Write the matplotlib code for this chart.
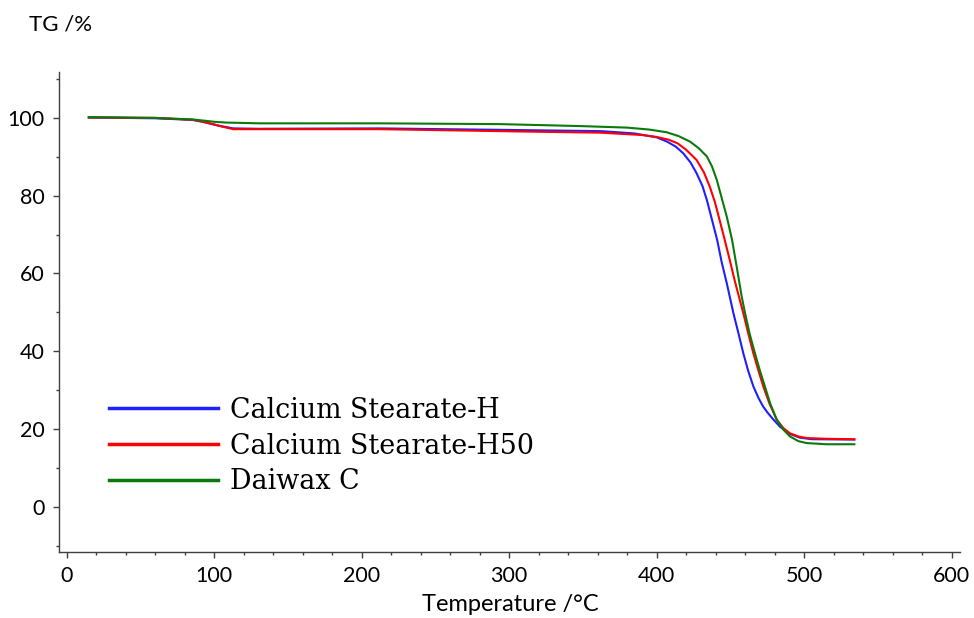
import matplotlib.pyplot as plt
from matplotlib.ticker import MultipleLocator

# Calcium Stearate-H
temp_h = [15, 60, 85, 92, 103, 113, 130, 212, 300, 362, 385, 400, 407, 413, 418, 423, 427, 431,
          434, 437, 441, 444, 447.5, 452, 455.5, 458.7, 462, 465.5, 469, 472, 475, 479, 483.6, 490,
          497, 505, 534]
tg_h = [100.1, 99.9, 99.5, 99.0, 98.0, 97.3, 97.2, 97.3, 96.9, 96.6, 96.0, 95.0, 93.9, 92.6, 90.9,
        88.5, 85.8, 82.5, 78.9, 74.5, 68.6, 63.0, 57.5, 49.8, 44.5, 39.5, 35.0, 31.0, 28.0, 25.9,
        24.3, 22.5, 20.6, 18.8, 17.8, 17.4, 17.3]

# Calcium Stearate-H50
temp_h50 = [15, 60, 86, 95, 105, 113, 130, 212, 309, 362, 390, 400, 408, 414, 420, 427, 432, 436,
            439.5, 442.6, 446, 449.5, 453, 458.7, 462, 465.5, 469, 472.3, 476.5, 481.4, 486, 490.4,
            496, 501.7, 515, 534]
tg_h50 = [100.1, 100.0, 99.5, 98.8, 97.8, 97.1, 97.1, 97.1, 96.5, 96.2, 95.6, 95.1, 94.4, 93.5,
          91.8, 89.2, 86.0, 82.3, 78.3, 73.8, 68.8, 63.5, 58.0, 49.8, 44.7, 39.5, 35.0, 30.9, 26.5,
          22.4, 20.2, 18.9, 18.1, 17.7, 17.5, 17.4]

# Daiwax C
temp_c = [15, 60, 85, 93, 100, 108, 131, 212, 294, 348, 380, 395, 406.8, 415, 422.6, 428.5, 434,
          437.5, 440.7, 444, 447.5, 451, 454.2, 457.6, 459.9, 463, 466.6, 470, 473.4, 477, 481.4,
          486, 490.4, 496, 501.7, 515, 534]
tg_c = [100.2, 100.0, 99.6, 99.3, 99.0, 98.8, 98.6, 98.6, 98.4, 97.9, 97.5, 97.0, 96.3, 95.3, 93.9,
        92.2, 90.1, 87.5, 84.1, 79.5, 74.6, 68.8, 61.8, 54.1, 49.8, 44.5, 39.5, 35.0, 30.9, 26.5,
        22.4, 19.8, 18.1, 16.9, 16.4, 16.1, 16.1]

fig = plt.figure(figsize=(9.74, 6.18), dpi=100)
ax = fig.add_axes([0.0603, 0.1068, 0.9253, 0.7767])

ax.plot(temp_h, tg_h, color="#1f1fff", linewidth=1.5, label="Calcium Stearate-H")
ax.plot(temp_h50, tg_h50, color="#ff0000", linewidth=1.5, label="Calcium Stearate-H50")
ax.plot(temp_c, tg_c, color="#0a7a0a", linewidth=1.5, label="Daiwax C")

ax.set_xlim(-5.4, 605.6)
ax.set_ylim(-11.6, 111.8)
ax.xaxis.set_major_locator(MultipleLocator(100))
ax.xaxis.set_minor_locator(MultipleLocator(20))
ax.yaxis.set_major_locator(MultipleLocator(20))
ax.yaxis.set_minor_locator(MultipleLocator(10))

for s in ["top", "right"]:
    ax.spines[s].set_visible(False)
for s in ["left", "bottom"]:
    ax.spines[s].set_color("#404040")
    ax.spines[s].set_linewidth(1.0)

ax.tick_params(which="major", length=4, width=1, color="#404040", labelsize=15.5, pad=6)
ax.tick_params(which="minor", length=2.5, width=1, color="#404040")
for lab in ax.get_xticklabels() + ax.get_yticklabels():
    lab.set_fontfamily("Lato")

fig.text(0.524, 0.005, "Temperature /°C", fontsize=17, family="Lato", ha="center", va="bottom")
fig.text(0.03, 0.96, "TG /%", fontsize=16, family="Lato", ha="left", va="center")

leg = ax.legend(loc="upper left", bbox_to_anchor=(0.044, 0.346), frameon=False,
                prop={"family": "DejaVu Serif", "size": 19.4},
                handlelength=4.04, handletextpad=0.44, labelspacing=0.33, borderaxespad=0)
for line in leg.get_lines():
    line.set_linewidth(2.5)

fig.savefig("out.png", dpi=100)
